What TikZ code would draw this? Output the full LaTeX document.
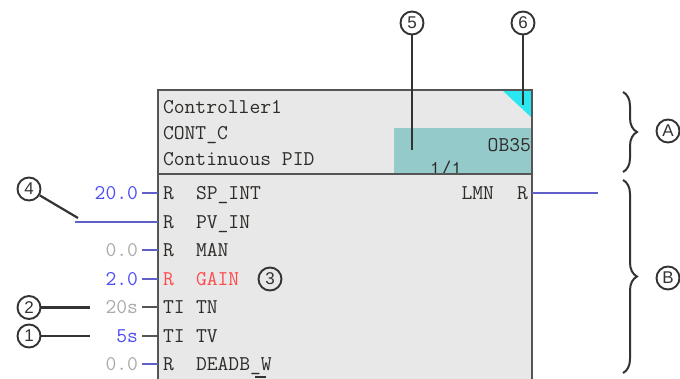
\documentclass[tikz,border=0pt]{standalone}
\usepackage{fontspec}
\setsansfont{Liberation Sans}
\usetikzlibrary{decorations.pathreplacing}
\definecolor{boxfill}{HTML}{E8E8E8}
\definecolor{boxline}{HTML}{555555}
\definecolor{txt}{HTML}{2E2B28}
\definecolor{valblue}{HTML}{4D4DF5}
\definecolor{valgray}{HTML}{AAAAAA}
\definecolor{pinblue}{HTML}{6060C8}
\definecolor{pingray}{HTML}{555555}
\definecolor{errred}{HTML}{FF4B4B}
\definecolor{tealbox}{HTML}{94CBCA}
\definecolor{cyantri}{HTML}{2AE6F0}
\definecolor{callout}{HTML}{333333}
\newcommand\mfont{\ttfamily\fontsize{21}{22}\selectfont}
\begin{document}
\begin{tikzpicture}[x=1pt,y=-1pt,
  mono/.style={inner sep=0pt,outer sep=0pt,font=\mfont,text=txt},
  val/.style={mono,anchor=base east},
  pinline/.style={line width=1.8pt},
  num/.style={circle,draw=callout,line width=1.9pt,minimum size=23pt,inner sep=0pt,font=\sffamily\fontsize{17}{17}\selectfont,text=callout},
  lead/.style={draw=callout,line width=2.2pt},
  brc/.style={draw=callout,line width=2pt,decorate,decoration={brace,amplitude=14pt,aspect=0.5}}]
\clip (0,0) rectangle (680,378);
\fill[white] (0,0) rectangle (680,378);
% header
\fill[boxfill] (158,90) rectangle (532,174);
\fill[tealbox] (394,128) rectangle (532,174);
\fill[cyantri] (502,90) -- (532,90) -- (532,118) -- cycle;
\node[mono,anchor=base west] (t1) at (163,113.5) {Controller1};
\node[mono,anchor=base west] (t2) at (163,139) {CONT\_C};
\node[mono,anchor=base west] (t3) at (163,165.5) {Continuous PID};
\node[mono,anchor=base east] (ob) at (531,151) {OB35};
\node[mono,anchor=base] (pg) at (446,175) {1/1};
% body
\fill[boxfill] (158,174) rectangle (532,390);
\draw[boxline,line width=1.6pt] (158,174) -- (532,174);
\draw[boxline,line width=2.2pt] (158,390) -- (158,90) -- (532,90) -- (532,390);
\fill[black!80] (255,375.5) rectangle (266,378);
% rows
\foreach \i/\yb/\ty/\nm/\col in {1/199/R/SP\_INT/txt, 2/228/R/PV\_IN/txt, 3/256/R/MAN/txt, 4/285/R/GAIN/errred, 5/313/TI/TN/txt, 6/342/TI/TV/txt, 7/370/R/DEADB\_W/txt}{
  \node[mono,anchor=base west,text=\col] (ty\i) at (163,\yb) {\ty};
  \node[mono,anchor=base west,text=\col] (nm\i) at (196,\yb) {\nm};
  \coordinate (pin\i) at (158,\yb-6);
}
% values
\node[val,text=valblue] (v1) at (138,199) {20.0};
\node[val,text=valgray] (v3) at (138,256) {0.0};
\node[val,text=valblue] (v4) at (138,285) {2.0};
\node[val,text=valgray] (v5) at (138,313) {20s};
\node[val,text=valblue] (v6) at (138,342) {5s};
\node[val,text=valgray] (v7) at (138,370) {0.0};
\foreach \i in {1,3,4,7}{\draw[pinline,pinblue] (pin\i) -- ++(-16,0);}
\foreach \i in {5,6}{\draw[pinline,pingray] (pin\i) -- ++(-16,0);}
\coordinate (pvend) at (75,222);
\draw[pinline,pinblue] (pin2) -- (pvend);
% output
\node[mono,anchor=base east] (lmn) at (494,199) {LMN};
\node[mono,anchor=base east] (outr) at (528,199) {R};
\coordinate (outpin) at (532,193);
\coordinate (outend) at (598,193);
\draw[pinline,pinblue] (outpin) -- (outend);
% callouts
\node[num] (c5) at (412,23) {5};
\node[num] (c6) at (523,23) {6};
\coordinate (c5e) at (412,150);
\coordinate (c6e) at (523,105);
\draw[lead] (c5) -- (c5e);
\draw[lead] (c6) -- (c6e);
\node[num] (c4) at (29,189) {4};
\coordinate (c4e) at (78,218);
\draw[lead] (c4) -- (c4e);
\node[num] (c3) at (270,279) {3};
\node[num] (c2) at (29,307.5) {2};
\node[num] (c1) at (29,336) {1};
\coordinate (c2e) at (90,307.5);
\coordinate (c1e) at (90,336);
\draw[lead] (c2) -- (c2e);
\draw[lead] (c1) -- (c1e);
% braces
\coordinate (ba1) at (623,92);
\coordinate (ba2) at (623,172);
\coordinate (bb1) at (623,180);
\coordinate (bb2) at (623,373);
\draw[brc] (ba1) -- (ba2);
\draw[brc] (bb1) -- (bb2);
\node[num] (cA) at (668,131) {A};
\node[num] (cB) at (668,278) {B};
\end{tikzpicture}
\end{document}
